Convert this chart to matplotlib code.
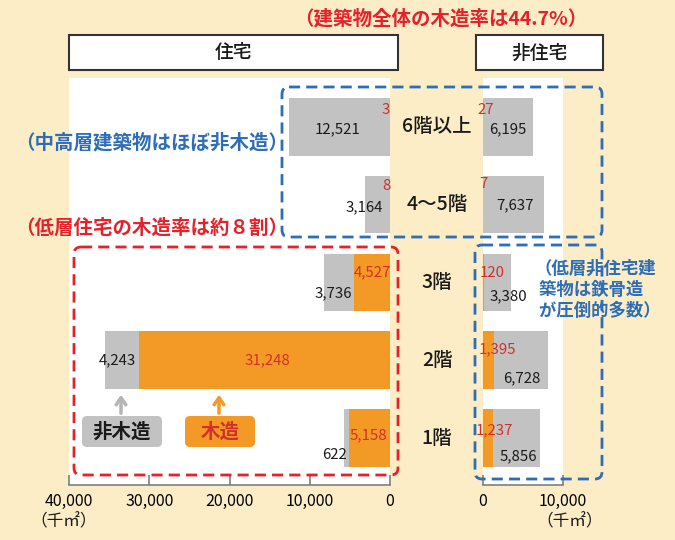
import matplotlib.pyplot as plt
from matplotlib.patches import FancyBboxPatch, Rectangle

plt.rcParams['font.family'] = ['Noto Sans CJK JP', 'DejaVu Sans']

# data (thousand m2)
floors = ['6階以上', '4〜5階', '3階', '2階', '1階']
house_wood = [3, 8, 4527, 31248, 5158]
house_nonwood = [12521, 3164, 3736, 4243, 622]
other_wood = [27, 7, 120, 1395, 1237]
other_nonwood = [6195, 7637, 3380, 6728, 5856]
left_ticks = [40000, 30000, 20000, 10000, 0]
right_ticks = [0, 10000]

# where the value labels sit (x in data, y offset in rows)
house_wood_pos = [(500, -0.22), (500, -0.24), (2250, -0.13), (15250, 0.0), (2750, -0.03)]
house_nonwood_pos = [(6500, 0.03), (3250, 0.04), (7125, 0.14), (34000, 0.0), (6875, 0.22)]
other_wood_pos = [(375, -0.22), (0, -0.27), (1125, -0.12), (1750, -0.14), (1375, -0.10)]
other_nonwood_pos = [(3125, 0.03), (4000, 0.01), (3125, 0.18), (4875, 0.23), (4375, 0.24)]

cream = '#FCEDC7'
orange = '#F39A26'
gray = '#C2C2C2'
red = '#E5222B'
numred = '#D2302B'
blue = '#2E6DB8'
W, H = 675, 540


def px_rect(x0, y0, x1, y1):
    return [x0 / W, 1 - y1 / H, (x1 - x0) / W, (y1 - y0) / H]


fig = plt.figure(figsize=(6.75, 5.4), dpi=100, facecolor=cream)
axL = fig.add_axes(px_rect(69, 78, 390, 485))
axR = fig.add_axes(px_rect(483, 78, 563, 485))
rows = list(range(len(floors)))

for ax, wood, nonwood in [(axL, house_wood, house_nonwood),
                          (axR, other_wood, other_nonwood)]:
    ax.barh(rows, wood, height=0.74, color=orange, linewidth=0)
    ax.barh(rows, nonwood, left=wood, height=0.74, color=gray, linewidth=0)
    ax.set_ylim(4.603, -0.628)
    for s in ['top', 'left', 'right']:
        ax.spines[s].set_visible(False)
    ax.spines['bottom'].set_color('#7f7f7f')
    ax.spines['bottom'].set_linewidth(1.2)
    ax.tick_params(axis='x', direction='in', length=7, color='#7f7f7f',
                   width=1.2, pad=6, labelsize=11.5)
    ax.tick_params(axis='y', left=False, labelleft=False)

axL.set_xlim(40000, 0)
axL.set_xticks(left_ticks)
axL.set_xticklabels(['{:,}'.format(t) for t in left_ticks])
axR.set_xlim(0, 10000)
axR.set_xticks(right_ticks)
axR.set_xticklabels(['{:,}'.format(t) for t in right_ticks])

for i in rows:
    x, dy = house_wood_pos[i]
    axL.text(x, i + dy, '{:,}'.format(house_wood[i]), color=numred,
             fontsize=10.8, ha='center', va='center')
    x, dy = house_nonwood_pos[i]
    axL.text(x, i + dy, '{:,}'.format(house_nonwood[i]), color='#1a1a1a',
             fontsize=10.8, ha='center', va='center')
    x, dy = other_wood_pos[i]
    axR.text(x, i + dy, '{:,}'.format(other_wood[i]), color=numred,
             fontsize=10.8, ha='center', va='center')
    x, dy = other_nonwood_pos[i]
    axR.text(x, i + dy, '{:,}'.format(other_nonwood[i]), color='#1a1a1a',
             fontsize=10.8, ha='center', va='center')
    # floor names in the cream column between panels
    axL.text(-5875, i, floors[i], fontsize=14, ha='center', va='center',
             color='#1a1a1a', fontweight='medium')

# overlay in pixel coordinates for the decorations
ov = fig.add_axes([0, 0, 1, 1], zorder=5)
ov.set_xlim(0, W)
ov.set_ylim(H, 0)
ov.axis('off')
ov.patch.set_alpha(0)

ov.text(441, 19, '（建築物全体の木造率は44.7%）', color=red, fontsize=14,
        fontweight='bold', ha='center', va='center')
for x0, x1, label in [(69, 398, '住宅'), (476, 603, '非住宅')]:
    ov.add_patch(Rectangle((x0, 35), x1 - x0, 35, facecolor='white',
                           edgecolor='#333333', linewidth=1.5))
    ov.text((x0 + x1) / 2, 53, label, fontsize=13.5, ha='center',
            va='center', color='#1a1a1a', fontweight='medium')

dash = (0, (4, 2.2))
for (x0, y0, x1, y1), c in [((282, 87, 602, 237), blue),
                            ((74, 247, 398, 475), red),
                            ((475, 245, 602, 479), blue)]:
    ov.add_patch(FancyBboxPatch((x0, y0), x1 - x0, y1 - y0,
                                boxstyle='round,pad=0,rounding_size=7',
                                facecolor='none', edgecolor=c,
                                linewidth=2, linestyle=dash))

ov.text(152, 143, '（中高層建築物はほぼ非木造）', color=blue, fontsize=14,
        fontweight='bold', ha='center', va='center')
ov.text(152, 228, '（低層住宅の木造率は約８割）', color=red, fontsize=14,
        fontweight='bold', ha='center', va='center')
ov.text(535, 290, '（低層非住宅建\n 築物は鉄骨造\n が圧倒的多数）', color=blue,
        fontsize=12.5, fontweight='bold', ha='left', va='center',
        linespacing=1.2)

# legend boxes with arrows
for x0, x1, fc, tc, label in [(82, 162, gray, '#1a1a1a', '非木造'),
                              (185, 255, orange, numred, '木造')]:
    ov.add_patch(FancyBboxPatch((x0, 416), x1 - x0, 31,
                                boxstyle='round,pad=0,rounding_size=5',
                                facecolor=fc, edgecolor='none'))
    ov.text((x0 + x1) / 2, 432, label, color=tc, fontsize=14,
            fontweight='bold', ha='center', va='center')
ov.annotate('', xy=(121, 392), xytext=(121, 416),
            arrowprops=dict(arrowstyle='->,head_length=0.5,head_width=0.35',
                            color='#B5B5B5', lw=2.5))
ov.annotate('', xy=(219, 392), xytext=(219, 416),
            arrowprops=dict(arrowstyle='->,head_length=0.5,head_width=0.35',
                            color=orange, lw=2.5))

ov.text(64, 522, '（千㎡）', fontsize=12, ha='center', va='center',
        color='#1a1a1a')
ov.text(570, 522, '（千㎡）', fontsize=12, ha='center', va='center',
        color='#1a1a1a')

fig.savefig('out.png', dpi=100, facecolor=cream)
